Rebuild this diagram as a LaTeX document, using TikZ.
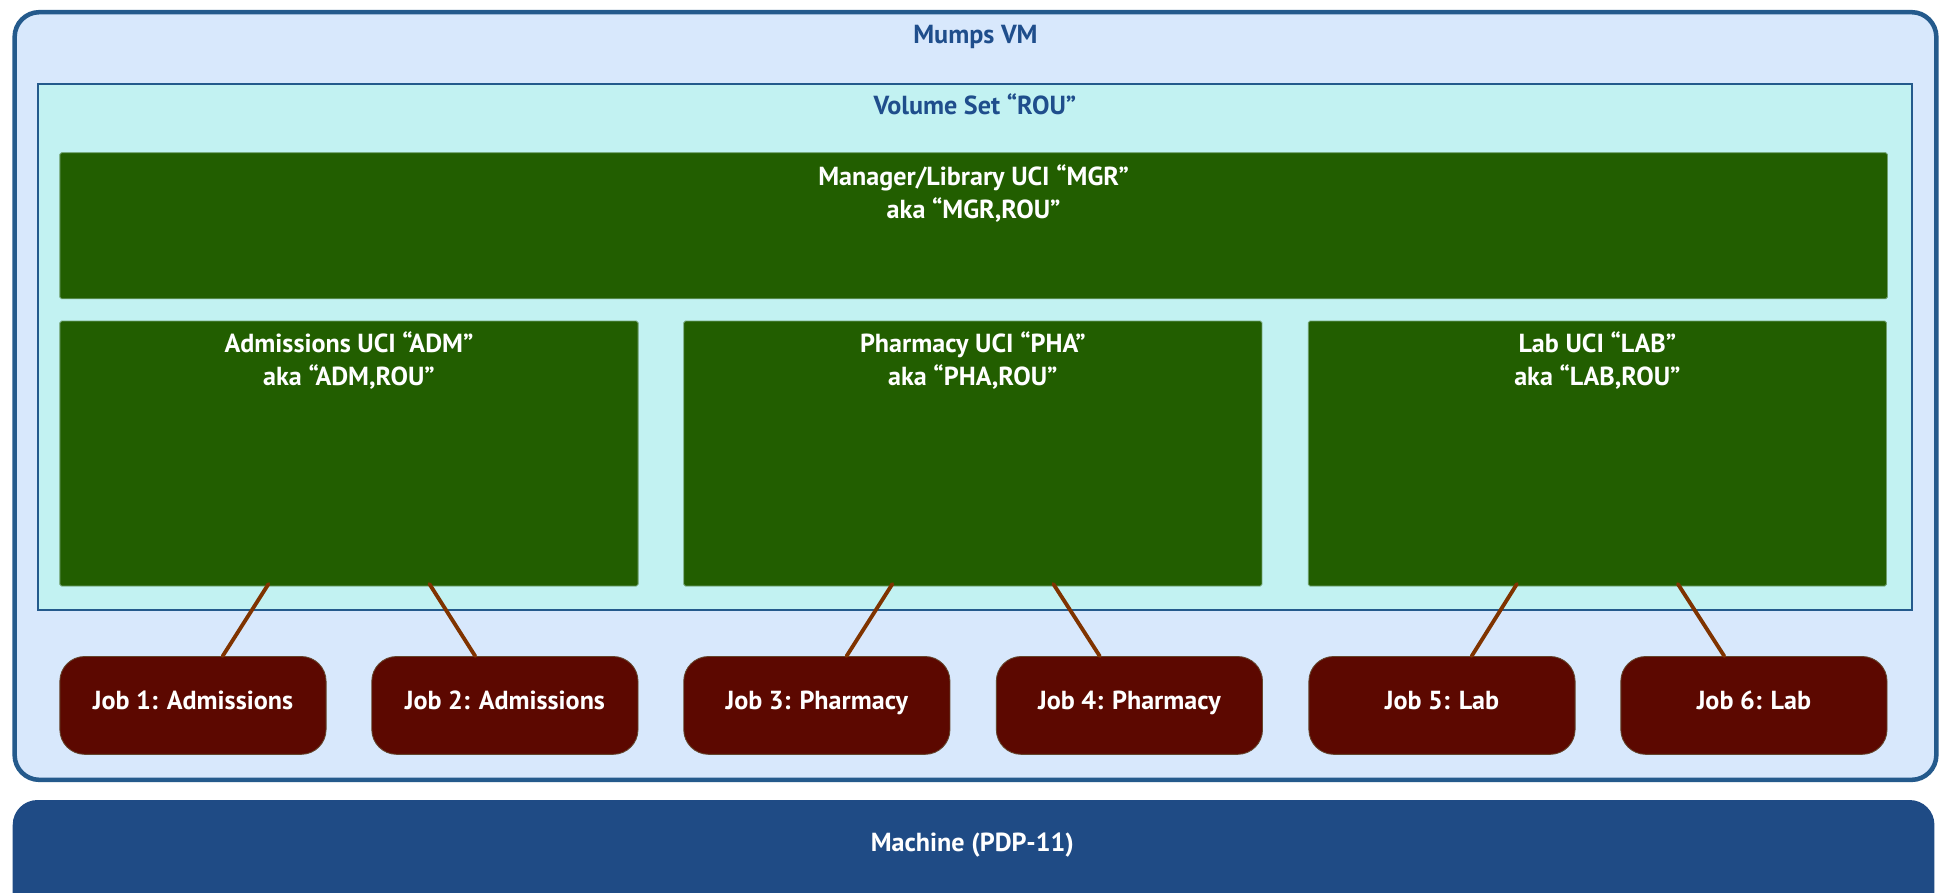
\documentclass[tikz,border=0pt]{standalone}
\usepackage{fontspec}
\setmainfont{PT Sans}
\usetikzlibrary{positioning}

\definecolor{vmfill}{HTML}{D8E8FC}
\definecolor{vmline}{HTML}{245A8C}
\definecolor{volfill}{HTML}{C2F2F2}
\definecolor{ucifill}{HTML}{225E00}
\definecolor{uciline}{HTML}{6FA06F}
\definecolor{jobfill}{HTML}{5C0800}
\definecolor{linkcol}{HTML}{7F3300}
\definecolor{machfill}{HTML}{1F4B85}
\definecolor{titlecol}{HTML}{1F4E8C}

\begin{document}
\begin{tikzpicture}[x=0.025cm,y=-0.025cm,font=\bfseries\fontsize{15}{19}\selectfont,
	vmbox/.style={draw=vmline,line width=2.6pt,fill=vmfill,rounded corners=0.5cm,anchor=north west,inner sep=0pt},
	volbox/.style={draw=vmline,line width=1.2pt,fill=volfill,anchor=north west,inner sep=0pt},
	ucibox/.style={draw=uciline,line width=0.5pt,fill=ucifill,rounded corners=1pt,anchor=north west,inner sep=0pt},
	jobbox/.style={draw=uciline!40!jobfill,line width=0.5pt,fill=jobfill,rounded corners=0.5cm,anchor=north west,inner sep=0pt,
		minimum width=5.375cm,minimum height=1.975cm,text=white,text depth=5.5pt},
	machbox/.style={fill=machfill,rounded corners=0.5cm,anchor=north west,inner sep=0pt},
	title/.style={text=titlecol},
	ucitext/.style={text=white,align=center},
	link/.style={draw=linkcol,line width=2.2pt,line cap=round}]
	\clip (0,0) rectangle (1568,721);
	\fill[white] (0,0) rectangle (1568,721);
	
	%BOXES
	\node[vmbox,minimum width=38.8cm,minimum height=15.5cm] (vm) at (10,8) {};
	\node[volbox,minimum width=37.825cm,minimum height=10.625cm] (vol) at (30,67) {};
	\node[ucibox,minimum width=36.9cm,minimum height=2.95cm] (mgr) at (48,123) {};
	\node[ucibox,minimum width=11.675cm,minimum height=5.35cm] (adm) at (48,259) {};
	\node[ucibox,minimum width=11.675cm,minimum height=5.35cm] (pha) at (552,259) {};
	\node[ucibox,minimum width=11.675cm,minimum height=5.35cm] (lab) at (1056.5,259) {};
	\node[machbox,minimum width=38.8cm,minimum height=3cm] (mach) at (10,646) {};
	
	%LABELS
	\node[title] (vmlabel) at ([yshift=-0.55cm]vm.north) {Mumps VM};
	\node[title] (vollabel) at ([yshift=-0.44cm]vol.north) {Volume Set “ROU”};
	\node[ucitext] (mgrlabel) at ([yshift=-0.84cm]mgr.north) {Manager/Library UCI “MGR”\\aka “MGR,ROU”};
	\node[ucitext] (admlabel) at ([yshift=-0.81cm]adm.north) {Admissions UCI “ADM”\\aka “ADM,ROU”};
	\node[ucitext] (phalabel) at ([yshift=-0.81cm]pha.north) {Pharmacy UCI “PHA”\\aka “PHA,ROU”};
	\node[ucitext] (lablabel) at ([yshift=-0.81cm]lab.north) {Lab UCI “LAB”\\aka “LAB,ROU”};
	\node[text=white] (machlabel) at (785.5,683) {Machine (PDP-11)};
	
	%JOBS
	\node[jobbox] (job1) at (48,530) {Job 1: Admissions};
	\node[jobbox] (job2) at (300,530) {Job 2: Admissions};
	\node[jobbox] (job3) at (552,530) {Job 3: Pharmacy};
	\node[jobbox] (job4) at (804.5,530) {Job 4: Pharmacy};
	\node[jobbox] (job5) at (1057,530) {Job 5: Lab};
	\node[jobbox] (job6) at (1309,530) {Job 6: Lab};
	
	%LINKS
	\draw[link] ([xshift=-1.625cm,yshift=0.05cm]adm.south) -- ([xshift=0.6cm]job1.north);
	\draw[link] ([xshift=1.625cm,yshift=0.05cm]adm.south) -- ([xshift=-0.6cm]job2.north);
	\draw[link] ([xshift=-1.625cm,yshift=0.05cm]pha.south) -- ([xshift=0.6cm]job3.north);
	\draw[link] ([xshift=1.625cm,yshift=0.05cm]pha.south) -- ([xshift=-0.6cm]job4.north);
	\draw[link] ([xshift=-1.625cm,yshift=0.05cm]lab.south) -- ([xshift=0.6cm]job5.north);
	\draw[link] ([xshift=1.625cm,yshift=0.05cm]lab.south) -- ([xshift=-0.6cm]job6.north);
\end{tikzpicture}
\end{document}
